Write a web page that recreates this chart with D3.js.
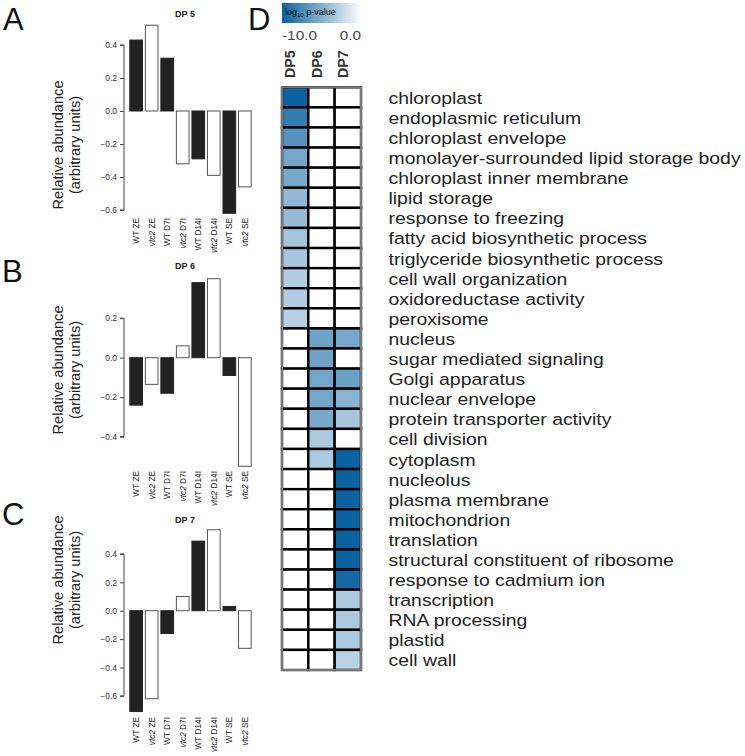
<!DOCTYPE html>
<html><head><meta charset="utf-8">
<script src="https://cdn.jsdelivr.net/npm/d3@7"></script>
<style>body{margin:0;background:#fff}svg{display:block}</style>
</head><body>
<svg id="c" width="745" height="756"></svg>
<script>
// ---------- data ----------
const categories = ["WT ZE","vtc2 ZE","WT D7I","vtc2 D7I","WT D14I","vtc2 D14I","WT SE","vtc2 SE"];
const genotype   = ["WT","vtc2","WT","vtc2","WT","vtc2","WT","vtc2"];
const dp5 = [0.43, 0.52, 0.32, -0.32, -0.29, -0.39, -0.62, -0.46];
const dp6 = [-0.24, -0.135, -0.18, 0.06, 0.38, 0.40, -0.09, -0.55];
const dp7 = [-0.71, -0.62, -0.16, 0.10, 0.49, 0.57, 0.03, -0.265];
const ticksA = [-0.6,-0.4,-0.2,0.0,0.2,0.4];
const ticksB = [-0.4,-0.2,0.0,0.2];
const ticksC = [-0.6,-0.4,-0.2,0.0,0.2,0.4];

const goTerms = ["chloroplast","endoplasmic reticulum","chloroplast envelope","monolayer-surrounded lipid storage body",
 "chloroplast inner membrane","lipid storage","response to freezing","fatty acid biosynthetic process",
 "triglyceride biosynthetic process","cell wall organization","oxidoreductase activity","peroxisome",
 "nucleus","sugar mediated signaling","Golgi apparatus","nuclear envelope","protein transporter activity",
 "cell division","cytoplasm","nucleolus","plasma membrane","mitochondrion","translation",
 "structural constituent of ribosome","response to cadmium ion","transcription","RNA processing","plastid","cell wall"];
const heatCols = ["DP5","DP6","DP7"];
// log10 p-values (0 = not enriched)
const logpDP5 = [-10,-8.3,-6.9,-5.7,-5.5,-4.5,-4.3,-3.7,-3.6,-3.2,-3.2,-3.0, 0,0,0,0,0,0,0,0,0,0,0,0,0,0,0,0,0];
const logpDP6 = [0,0,0,0,0,0,0,0,0,0,0,0, -5.9,-5.9,-5.7,-5.7,-5.5,-3.4,-3.4, 0,0,0,0,0,0,0,0,0,0];
const logpDP7 = [0,0,0,0,0,0,0,0,0,0,0,0, -5.7,0,-6.0,-4.8,-3.6,0,-10,-10,-10,-10,-10,-10,-9.6,-3.4,-3.4,-3.4,-2.9];
const legendTicks = ["-10.0","0.0"];

// ---------- drawing ----------
const svg = d3.select("#c");
const FONT = "'Liberation Sans', Arial, sans-serif";

function barPanel(opt){
  const g = svg.append("g");
  const x = d3.scaleBand().domain(categories).range([129, 252]).paddingInner(0.12).paddingOuter(0.02);
  const y = d3.scaleLinear().domain(opt.domain).range(opt.range);
  // letter
  g.append("text").attr("x", opt.letterX).attr("y", opt.letterY).text(opt.letter)
    .attr("font-family", FONT).attr("font-size", 31).attr("fill", "#111");
  // title
  g.append("text").attr("x", 185).attr("y", opt.titleY).attr("text-anchor","middle")
    .text(opt.title).attr("font-family", FONT).attr("font-size", 9).attr("font-weight","bold").attr("fill","#222");
  // y axis label
  const lab = g.append("g").attr("transform", `translate(0,${opt.labelY})`);
  lab.append("text").attr("transform","translate(63,0) rotate(-90)").attr("text-anchor","middle")
    .text("Relative abundance").attr("font-family",FONT).attr("font-size",14.6).attr("fill","#222");
  lab.append("text").attr("transform","translate(80,0) rotate(-90)").attr("text-anchor","middle")
    .text("(arbitrary units)").attr("font-family",FONT).attr("font-size",14.6).attr("fill","#222");
  // axis
  const ax = g.append("g").attr("transform","translate(124,0)")
    .call(d3.axisLeft(y).tickValues(opt.ticks).tickFormat(d3.format(".1f")).tickSize(4).tickPadding(3));
  ax.select(".domain").attr("stroke","#444").attr("d", `M-4,${y(opt.ticks[0])}H0V${y(opt.ticks[opt.ticks.length-1])}H-4`);
  ax.selectAll(".tick line").attr("stroke","#444");
  ax.selectAll(".tick text").attr("font-family",FONT).attr("font-size",8.5).attr("fill","#333");
  // bars
  g.selectAll("rect.bar").data(opt.values).join("rect").attr("class","bar")
    .attr("x",(d,i)=>x(categories[i])+0.5)
    .attr("width", x.bandwidth()-1)
    .attr("y", d=>Math.min(y(d), y(0)))
    .attr("height", d=>Math.abs(y(d)-y(0)))
    .attr("fill",(d,i)=>genotype[i]==="WT" ? "#222" : "#fff")
    .attr("stroke",(d,i)=>genotype[i]==="WT" ? "#222" : "#555")
    .attr("stroke-width",1);
  // x labels
  const xl = g.selectAll("text.xl").data(categories).join("text").attr("class","xl")
    .attr("transform", d=>`translate(${x(d)+x.bandwidth()/2},${opt.xLabY}) rotate(-90)`)
    .attr("text-anchor","end").attr("dy","0.35em")
    .attr("font-family",FONT).attr("font-size",8.3).attr("fill","#222");
  xl.each(function(d){
    const parts = d.split(" ");
    const t = d3.select(this);
    if (parts[0]==="vtc2"){
      t.append("tspan").attr("font-style","italic").text("vtc2");
      t.append("tspan").text(" " + parts.slice(1).join(" "));
    } else t.text(d);
  });
}

barPanel({letter:"A", letterX:3, letterY:30, title:"DP 5", titleY:17, labelY:145,
  domain:[-0.6,0.4], range:[210,45], ticks:ticksA, values:dp5, xLabY:218});
barPanel({letter:"B", letterX:2, letterY:282, title:"DP 6", titleY:269, labelY:370,
  domain:[-0.4,0.2], range:[436.7,318.2], ticks:ticksB, values:dp6, xLabY:471});
barPanel({letter:"C", letterX:2, letterY:525, title:"DP 7", titleY:523, labelY:580,
  domain:[-0.6,0.4], range:[695.9,553.9], ticks:ticksC, values:dp7, xLabY:717});

// ---------- heatmap ----------
const hg = svg.append("g");
hg.append("text").attr("x",248).attr("y",30).text("D").attr("font-family",FONT).attr("font-size",31).attr("fill","#111");

const color = d3.scaleLinear().domain([-10,0]).range(["#0a62a0","#ffffff"]).clamp(true);
const hx = d3.scaleBand().domain(heatCols).range([282, 361]);
const hy = d3.scaleBand().domain(goTerms).range([87.3, 670]);

// legend gradient
const defs = svg.append("defs");
const grad = defs.append("linearGradient").attr("id","lg").attr("x1","0%").attr("x2","100%");
grad.append("stop").attr("offset","0%").attr("stop-color",color(-10));
grad.append("stop").attr("offset","100%").attr("stop-color",color(0));
hg.append("rect").attr("x",282).attr("y",3).attr("width",80).attr("height",20).attr("fill","url(#lg)");
const lt = hg.append("text").attr("x",285).attr("y",15).attr("font-family",FONT).attr("font-size",9).attr("fill","#111");
lt.append("tspan").text("log");
lt.append("tspan").attr("font-size",6).attr("dy",2).text("10");
lt.append("tspan").attr("dy",-2).text(" p-value");
hg.append("text").attr("transform","translate(282,40) scale(1.18,1)").text(legendTicks[0])
  .attr("font-family",FONT).attr("font-size",13).attr("fill","#444");
hg.append("text").attr("transform","translate(361,40) scale(1.18,1)").attr("text-anchor","end").text(legendTicks[1])
  .attr("font-family",FONT).attr("font-size",13).attr("fill","#444");

// column headers
hg.selectAll("text.ch").data(heatCols).join("text").attr("class","ch")
  .attr("transform", d=>`translate(${hx(d)+hx.bandwidth()/2},78) rotate(-90)`)
  .text(d=>d).attr("font-family",FONT).attr("font-size",14.2).attr("font-weight","bold").attr("fill","#333");

const cells = [];
goTerms.forEach((t,i)=>{
  cells.push({col:"DP5", term:t, v:logpDP5[i]});
  cells.push({col:"DP6", term:t, v:logpDP6[i]});
  cells.push({col:"DP7", term:t, v:logpDP7[i]});
});
hg.selectAll("rect.cell").data(cells).join("rect").attr("class","cell")
  .attr("x", d=>hx(d.col)).attr("y", d=>hy(d.term))
  .attr("width", hx.bandwidth()).attr("height", hy.bandwidth())
  .attr("fill", d=>color(d.v)).attr("stroke","#000").attr("stroke-width",2.4);
hg.append("rect").attr("x",282).attr("y",87.3).attr("width",79).attr("height",670-87.3)
  .attr("fill","none").attr("stroke","#777").attr("stroke-width",2);

// row labels
hg.selectAll("text.rl").data(goTerms).join("text").attr("class","rl")
  .attr("transform", d=>`translate(388.5,${hy(d)+hy.bandwidth()/2+6.5}) scale(1.14,1)`)
  .text(d=>d).attr("font-family",FONT).attr("font-size",17).attr("fill","#222");
</script>
</body></html>
